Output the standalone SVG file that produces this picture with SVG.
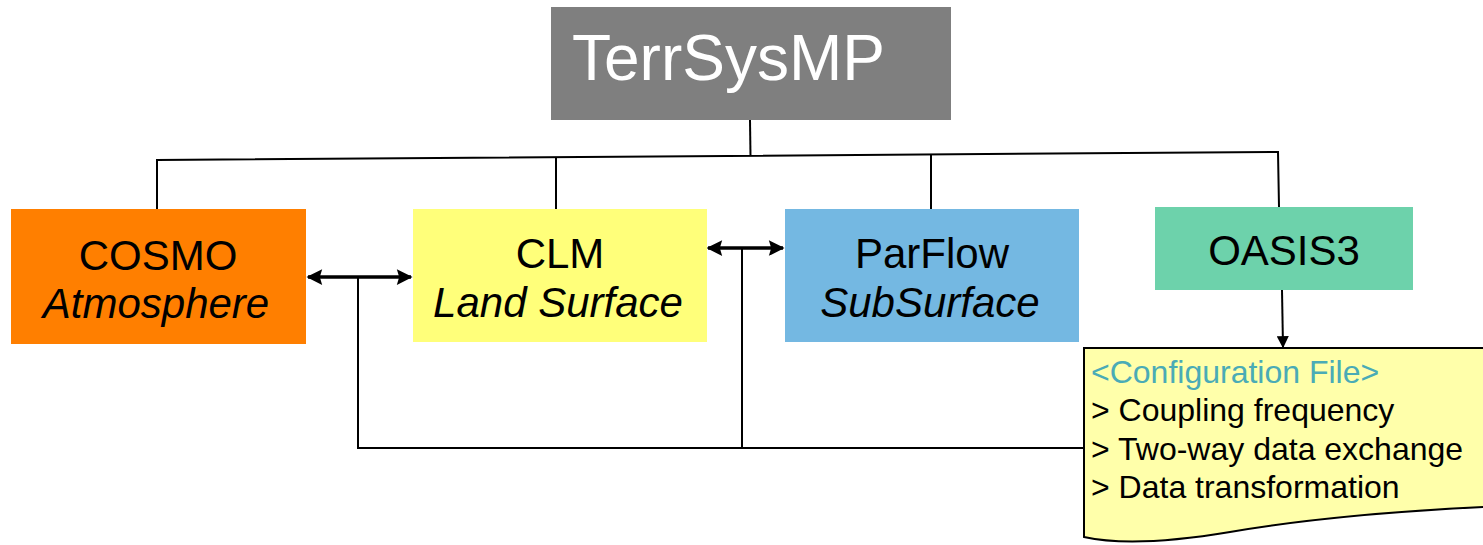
<svg xmlns="http://www.w3.org/2000/svg" width="1483" height="545" viewBox="0 0 1483 545">
<defs>
<style>
.t{font-family:"Liberation Sans",Arial,sans-serif;font-size:42px;fill:#000;text-anchor:middle}
.i{font-style:italic}
.c{font-family:"Liberation Sans",Arial,sans-serif;font-size:32px;fill:#000}
.ln{fill:none;stroke:#000;stroke-width:2}
.ar{fill:none;stroke:#000;stroke-width:3.5}
</style>
<marker id="ah" viewBox="0 0 10 10" refX="9" refY="5" markerWidth="5" markerHeight="4.5" orient="auto-start-reverse" markerUnits="strokeWidth">
<path d="M0,0 L10,5 L0,10 L1.5,5 Z" fill="#000"/>
</marker>
<marker id="ah2" viewBox="0 0 10 10" refX="9" refY="5" markerWidth="6" markerHeight="6" orient="auto" markerUnits="strokeWidth">
<path d="M0,0 L10,5 L0,10 Z" fill="#000"/>
</marker>
</defs>
<rect width="1483" height="545" fill="#fff"/>
<g id="connectors">
<polyline class="ln" points="157,209 157,160 1278,152 1279,207"/>
<line class="ln" x1="750" y1="120" x2="750.5" y2="156"/>
<line class="ln" x1="556" y1="158" x2="556" y2="209"/>
<line class="ln" x1="931" y1="155" x2="931" y2="209"/>
<line class="ar" x1="308" y1="277" x2="411" y2="277" marker-start="url(#ah)" marker-end="url(#ah)"/>
<line class="ar" x1="708" y1="248" x2="783" y2="248" marker-start="url(#ah)" marker-end="url(#ah)"/>
<polyline class="ln" points="358,277 358,448 1084,448"/>
<line class="ln" x1="742" y1="248" x2="742" y2="448"/>
<line class="ln" x1="1282" y1="290" x2="1283" y2="347" marker-end="url(#ah2)"/>
</g>
<g id="terrsysmp">
<rect x="551" y="7" width="400" height="113" fill="#7f7f7f"/>
<text x="572" y="80" font-family="Liberation Sans, Arial, sans-serif" font-size="64" fill="#fff">TerrSysMP</text>
</g>
<g id="cosmo">
<rect x="11" y="209" width="295" height="135" fill="#ff7f00"/>
<text class="t" x="158" y="270">COSMO</text>
<text class="t i" x="156" y="318">Atmosphere</text>
</g>
<g id="clm">
<rect x="413" y="209" width="294" height="133" fill="#ffff7a"/>
<text class="t" x="560" y="268">CLM</text>
<text class="t i" x="558" y="317">Land Surface</text>
</g>
<g id="parflow">
<rect x="785" y="209" width="294" height="133" fill="#74b8e2"/>
<text class="t" x="932" y="268">ParFlow</text>
<text class="t i" x="930" y="317">SubSurface</text>
</g>
<g id="oasis3">
<rect x="1155" y="207" width="258" height="83" fill="#6dd2ab"/>
<text class="t" x="1284" y="265">OASIS3</text>
</g>
<g id="config">
<path d="M1084,348 L1484,348 L1484,507 C1380,512 1300,520 1230,532 C1170,542 1120,545 1084,537 Z" fill="#ffffaa" stroke="#000" stroke-width="2"/>
<text class="c" x="1091" y="383" style="fill:#4aabb6">&lt;Configuration File&gt;</text>
<text class="c" x="1091" y="421">&gt; Coupling frequency</text>
<text class="c" x="1091" y="460">&gt; Two-way data exchange</text>
<text class="c" x="1091" y="498">&gt; Data transformation</text>
</g>
</svg>
